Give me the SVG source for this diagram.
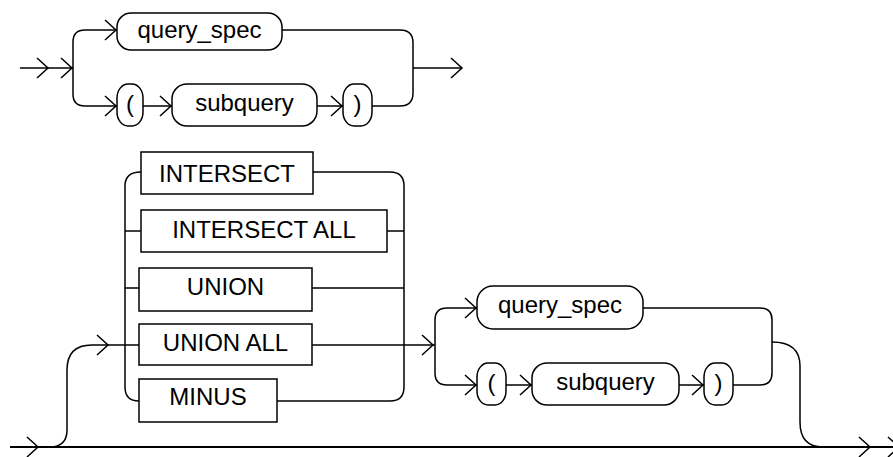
<svg xmlns="http://www.w3.org/2000/svg" xmlns:xlink="http://www.w3.org/1999/xlink" width="893" height="457" viewBox="0 0 893 457">
<style>
.ln{fill:none;stroke:#000;stroke-width:1.5}
.main{fill:none;stroke:#000;stroke-width:2}
.bx{fill:#fff;stroke:#000;stroke-width:1.5}
.t{font-family:"Liberation Sans",Arial,sans-serif;font-size:24px;fill:#000;text-anchor:middle}
</style>
<defs>
<path id="ah" d="M-11,-10 L0,0 L-11,10" fill="none" stroke="#000" stroke-width="1.5"/>
</defs>
<rect width="893" height="457" fill="#fff"/>
<g id="connectors">
<path class="ln" d="M20,68 H73"/>
<path class="ln" d="M73,68 V42 Q73,30 85,30 H117"/>
<path class="ln" d="M73,68 V94 Q73,106 85,106 H117"/>
<path class="ln" d="M143,106 H172"/>
<path class="ln" d="M317,106 H343"/>
<path class="ln" d="M372,106 H400 Q413,106 413,93 V43 Q413,30 400,30 H282"/>
<path class="ln" d="M413,68 H462"/>
<use xlink:href="#ah" x="48" y="68"/>
<use xlink:href="#ah" x="72" y="68"/>
<use xlink:href="#ah" x="116" y="30"/>
<use xlink:href="#ah" x="116" y="106"/>
<use xlink:href="#ah" x="171" y="106"/>
<use xlink:href="#ah" x="342" y="106"/>
<use xlink:href="#ah" x="462" y="68"/>
<path class="main" d="M10,447 H893"/>
<use xlink:href="#ah" x="38" y="447"/>
<use xlink:href="#ah" x="870" y="447"/>
<use xlink:href="#ah" x="899" y="447"/>
<path class="ln" d="M53,447 Q67,445 67,430 V370 Q67,345 92,345 H139"/>
<use xlink:href="#ah" x="108" y="345"/>
<path class="ln" d="M141,172 Q125,172 125,186 V387 Q125,401 139,401"/>
<path class="ln" d="M125,231 H141 M125,288 H139"/>
<path class="ln" d="M313,172 H390 Q404,172 404,186 V387 Q404,401 390,401 H277"/>
<path class="ln" d="M387,231 H404 M312,288 H404 M312,345 H435"/>
<use xlink:href="#ah" x="433" y="345"/>
<path class="ln" d="M435,345 V320 Q435,308 447,308 H477"/>
<path class="ln" d="M435,345 V373 Q435,385 447,385 H477"/>
<use xlink:href="#ah" x="476" y="308"/>
<use xlink:href="#ah" x="476" y="385"/>
<path class="ln" d="M506,385 H532"/>
<use xlink:href="#ah" x="531" y="385"/>
<path class="ln" d="M679,385 H704"/>
<use xlink:href="#ah" x="703" y="385"/>
<path class="ln" d="M733,385 H760 Q772,385 772,373 V320 Q772,308 760,308 H643"/>
<path class="ln" d="M772,342 Q800,342 800,366 V422 Q800,447 823,447"/>
</g>
<g id="query_spec_1"><rect class="bx" x="117" y="13" width="165" height="37" rx="14" ry="14"/><text class="t" x="199.5" y="38">query_spec</text></g>
<g id="lparen_1"><rect class="bx" x="117" y="84" width="26" height="42" rx="11" ry="14"/><text class="t" x="130" y="112">(</text></g>
<g id="subquery_1"><rect class="bx" x="172" y="84" width="145" height="42" rx="15" ry="15"/><text class="t" x="244.5" y="111">subquery</text></g>
<g id="rparen_1"><rect class="bx" x="343" y="84" width="29" height="42" rx="11" ry="14"/><text class="t" x="357.5" y="112">)</text></g>
<g id="intersect"><rect class="bx" x="141" y="152" width="172" height="42"/><text class="t" x="227" y="182">INTERSECT</text></g>
<g id="intersect_all"><rect class="bx" x="141" y="210" width="246" height="42"/><text class="t" x="264" y="238">INTERSECT ALL</text></g>
<g id="union"><rect class="bx" x="139" y="268" width="173" height="43"/><text class="t" x="225.5" y="295">UNION</text></g>
<g id="union_all"><rect class="bx" x="139" y="324" width="173" height="41"/><text class="t" x="225.5" y="351">UNION ALL</text></g>
<g id="minus"><rect class="bx" x="139" y="379" width="138" height="43"/><text class="t" x="208" y="405">MINUS</text></g>
<g id="query_spec_2"><rect class="bx" x="477" y="286" width="166" height="43" rx="16" ry="16"/><text class="t" x="560" y="313">query_spec</text></g>
<g id="lparen_2"><rect class="bx" x="477" y="363" width="29" height="42" rx="11" ry="14"/><text class="t" x="491.5" y="391">(</text></g>
<g id="subquery_2"><rect class="bx" x="532" y="363" width="147" height="42" rx="15" ry="15"/><text class="t" x="605.5" y="390">subquery</text></g>
<g id="rparen_2"><rect class="bx" x="704" y="363" width="29" height="42" rx="11" ry="14"/><text class="t" x="718.5" y="391">)</text></g>
</svg>
